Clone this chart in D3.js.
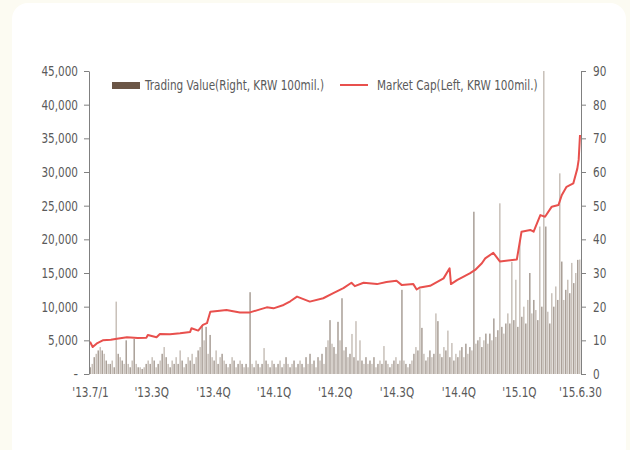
<!DOCTYPE html>
<html>
<head>
<meta charset="utf-8">
<script src="https://cdn.jsdelivr.net/npm/d3@7"></script>
<style>
    body { margin: 0; background: #fcfbf2; }
    svg { display: block; }
    text { font-family: "Liberation Sans Narrow", "DejaVu Sans Condensed", "Roboto", sans-serif; fill: #5a5a5a; }
</style>
</head>
<body>
<div id="chart"></div>
<script>
// market cap (left axis, KRW 100mil.)
const capDates = ["2013-07-01", "2013-07-05", "2013-07-12", "2013-07-20", "2013-08-01", "2013-08-10", "2013-08-25",
    "2013-09-10", "2013-09-23", "2013-09-25", "2013-10-08", "2013-10-13", "2013-10-28", "2013-11-12", "2013-11-27",
    "2013-11-29", "2013-12-09", "2013-12-16", "2013-12-22", "2013-12-27", "2014-01-10", "2014-01-20", "2014-02-09",
    "2014-02-24", "2014-03-11", "2014-03-21", "2014-03-31", "2014-04-15", "2014-04-25", "2014-05-05", "2014-05-24",
    "2014-06-13", "2014-06-28", "2014-07-13", "2014-07-25", "2014-07-30", "2014-08-12", "2014-09-01", "2014-09-15",
    "2014-09-30", "2014-10-08", "2014-10-25", "2014-10-30", "2014-11-04", "2014-11-19", "2014-12-09", "2014-12-18",
    "2014-12-20", "2014-12-29", "2015-01-17", "2015-01-25", "2015-02-04", "2015-02-09", "2015-02-21", "2015-03-03",
    "2015-03-28", "2015-04-04", "2015-04-17", "2015-04-22", "2015-05-02", "2015-05-09", "2015-05-19", "2015-05-29",
    "2015-06-03", "2015-06-10", "2015-06-20", "2015-06-26", "2015-06-28", "2015-06-30"];
const capValues = [4800, 4000, 4600, 5000, 5100, 5250, 5450,
    5350, 5400, 5800, 5450, 5950, 5900, 6050, 6250,
    6800, 6450, 7300, 7550, 9250, 9400, 9500, 9150,
    9150, 9600, 9900, 9750, 10250, 10800, 11500, 10750,
    11250, 12000, 12750, 13550, 13050, 13550, 13350, 13650,
    13850, 13200, 13350, 12550, 12850, 13100, 14200, 15700,
    13350, 13950, 14950, 15450, 16450, 17180, 18000, 16700,
    17000, 21130, 21400, 21130, 23600, 23360, 24850, 25100,
    26600, 27800, 28300, 30500, 31800, 35500];

// trading value (right axis, KRW 100mil.), one bar per two trading days
const tradeValues = [
    2, 3, 5, 6, 7, 8, 7, 6, 4, 3,
    3, 4, 2, 21.5, 6, 5, 4, 3, 10, 3,
    2, 4, 10.4, 3, 2, 2, 1.5, 2, 3, 4,
    3, 5, 4, 2, 3, 4, 6, 8, 5, 3,
    2, 4, 3, 5, 3, 7, 4, 2, 3, 5,
    4, 6, 3, 5, 7, 8, 14.5, 10, 14, 6,
    11.6, 5, 4, 7, 3, 5, 6, 4, 3, 2,
    3, 5, 4, 2, 3, 4, 3, 2, 3, 2,
    24.3, 3, 2, 4, 3, 2, 3, 7.7, 4, 3,
    2, 4, 3, 2, 3, 4, 2, 3, 5, 3,
    2, 3, 4, 2, 3, 4, 3, 2, 5, 3,
    6, 3, 4, 2, 5, 4, 6, 3, 8, 10,
    16, 9, 8, 6, 15.5, 10, 22.5, 7, 8, 5,
    6, 11.9, 5, 15.7, 4, 10, 4, 3, 5, 3,
    4, 3, 5, 2, 3, 4, 3, 8.3, 4, 3,
    2, 3, 4, 5, 3, 4, 25, 4, 3, 2,
    3, 4, 6, 8, 7, 25.2, 13.7, 6, 4, 5,
    7, 5, 6, 18, 15.7, 6, 5, 8, 7, 12.9,
    5, 9.2, 4, 6, 5, 7, 8, 5, 9, 6,
    8, 7, 48.2, 9, 10, 11, 8, 10, 12, 9,
    12, 10, 16.5, 11, 13, 50.7, 14, 12, 15, 18,
    15, 33.3, 16, 28, 14, 39.8, 17, 20, 15, 22,
    30, 18, 22, 19, 16, 43.8, 20, 90, 43.8, 18.5,
    15, 24, 20, 26, 22, 59.6, 33.4, 22, 25, 28,
    24, 33, 27, 30, 33.9, 34];

const tickDates = ["2013-07-01", "2013-09-30", "2013-12-31", "2014-03-31", "2014-06-30",
    "2014-09-30", "2014-12-31", "2015-03-31", "2015-06-30"];
const tickLabels = ["'13.7/1", "'13.3Q", "'13.4Q", "'14.1Q", "'14.2Q", "'14.3Q", "'14.4Q", "'15.1Q", "'15.6.30"];

const leftTicks = d3.range(0, 45001, 5000);
const rightTicks = d3.range(0, 91, 10);

const width = 630, height = 450;
const plotLeft = 89, plotRight = 581, plotTop = 71, plotBottom = 374;
const squeeze = 0.83; // the original uses a condensed face

const parse = d3.timeParse("%Y-%m-%d");

const svg = d3.select("#chart").append("svg")
    .attr("width", width)
    .attr("height", height);

svg.append("rect")
    .attr("x", 12).attr("y", 3)
    .attr("width", 614).attr("height", 460)
    .attr("rx", 16)
    .attr("fill", "#ffffff");

const x = d3.scaleTime()
    .domain([parse(capDates[0]), parse(capDates[capDates.length - 1])])
    .range([plotLeft + 1, plotRight - 1]);

const xBar = d3.scaleBand()
    .domain(d3.range(tradeValues.length))
    .range([plotLeft, plotRight])
    .padding(0.25);

const yLeft = d3.scaleLinear().domain([0, 45000]).range([plotBottom, plotTop]);
const yRight = d3.scaleLinear().domain([0, 90]).range([plotBottom, plotTop]);

// bars
svg.append("g")
  .selectAll("rect")
  .data(tradeValues)
  .enter().append("rect")
    .attr("x", (d, i) => xBar(i))
    .attr("width", xBar.bandwidth())
    .attr("y", d => yRight(d))
    .attr("height", d => plotBottom - yRight(d))
    .attr("fill", (d, i) => i % 2 ? "#c8c0b9" : "#a99f97");

// line
const line = d3.line()
    .x((d, i) => x(parse(capDates[i])))
    .y(d => yLeft(d));

svg.append("path")
    .datum(capValues)
    .attr("fill", "none")
    .attr("stroke", "#e8504d")
    .attr("stroke-width", 2)
    .attr("stroke-linejoin", "round")
    .attr("d", line);

// axes
const fmt = d3.format(",");
const gl = svg.append("g")
    .attr("transform", "translate(" + plotLeft + ",0)")
    .call(d3.axisLeft(yLeft).tickValues(leftTicks).tickSize(5).tickSizeOuter(0)
        .tickFormat(d => d === 0 ? "-" : fmt(d)));

const gr = svg.append("g")
    .attr("transform", "translate(" + plotRight + ",0)")
    .call(d3.axisRight(yRight).tickValues(rightTicks).tickSize(5).tickSizeOuter(0));

[gl, gr].forEach(g => {
    g.select(".domain").attr("stroke", "#808080");
    g.selectAll(".tick line").attr("stroke", "#808080");
    g.selectAll(".tick text")
        .attr("font-size", 14)
        .attr("font-family", null)
        .attr("fill", "#5a5a5a");
});
gl.selectAll(".tick text").attr("x", -11);
gr.selectAll(".tick text").attr("x", 12);

const gx = svg.append("g")
    .attr("transform", "translate(0," + plotBottom + ")")
    .call(d3.axisBottom(x).tickValues(tickDates.map(parse)).tickSize(0)
        .tickFormat((d, i) => tickLabels[i]));
gx.select(".domain").remove();
gx.selectAll(".tick text")
    .attr("font-size", 14)
    .attr("font-family", null)
    .attr("fill", "#5a5a5a")
    .attr("y", 13);

// legend
const legend = svg.append("g");
legend.append("rect")
    .attr("x", 112).attr("y", 82)
    .attr("width", 28).attr("height", 7)
    .attr("fill", "#6b5646");
legend.append("text")
    .attr("x", 145).attr("y", 90)
    .attr("font-size", 14)
    .text("Trading Value(Right, KRW 100mil.)");
legend.append("line")
    .attr("x1", 340).attr("x2", 368)
    .attr("y1", 85).attr("y2", 85)
    .attr("stroke", "#e8504d")
    .attr("stroke-width", 2);
legend.append("text")
    .attr("x", 377).attr("y", 90)
    .attr("font-size", 14)
    .text("Market Cap(Left, KRW 100mil.)");

// narrow every label to mimic the condensed face
svg.selectAll("text").each(function() {
    const len = this.getComputedTextLength();
    if (len > 6) {
        d3.select(this)
            .attr("textLength", len * squeeze)
            .attr("lengthAdjust", "spacingAndGlyphs");
    }
});
</script>
</body>
</html>
